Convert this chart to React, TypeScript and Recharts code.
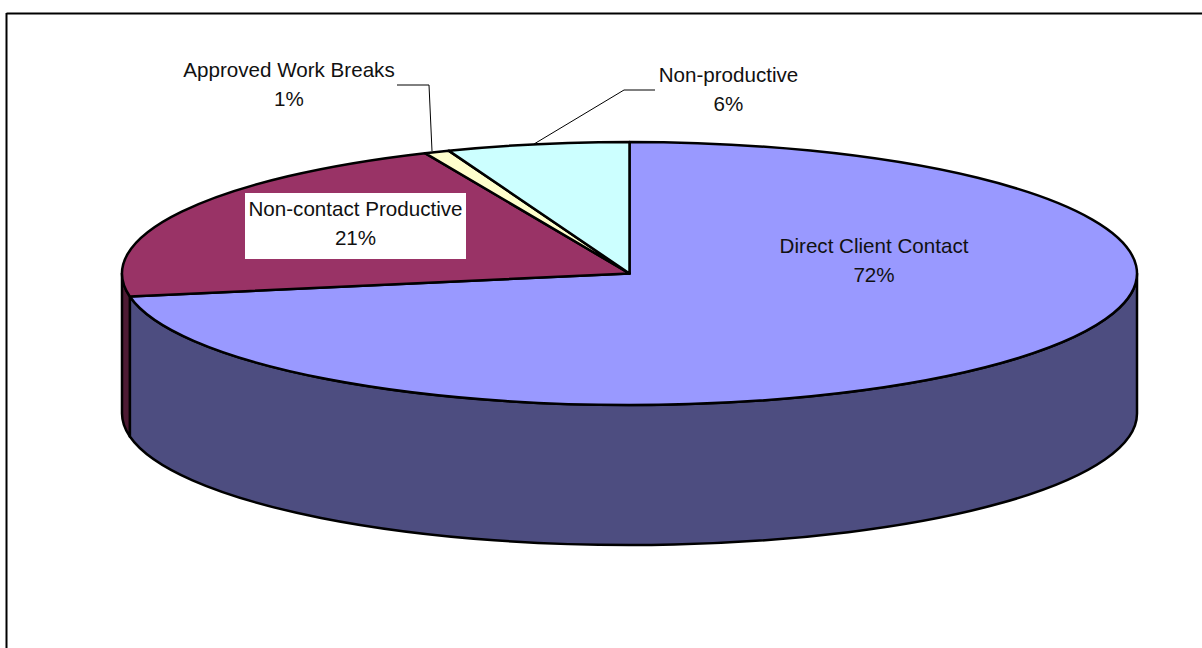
import React from "react";
import { PieChart, Pie } from "recharts";

// Share of working time by activity, clockwise from twelve o'clock.
const categories = ["Direct Client Contact", "Non-contact Productive", "Approved Work Breaks", "Non-productive"];
const shares = [72.2, 21.2, 0.8, 5.8];
const topColors = ["#9999FF", "#993366", "#FFFFCC", "#CCFFFF"];
const wallColors = ["#4D4D80", "#4D1A33", "#80805F", "#668080"];

const rows = categories.map((name, i) => ({
  name,
  value: shares[i],
  fill: topColors[i],
  wall: wallColors[i],
}));

const WIDTH = 1202;
const HEIGHT = 648;
const CX = 629.5;
const CY = 273.5;
const RADIUS = 507.5;
const TILT = 131.5 / 507.5;
const DEPTH = 140;
const FONT = "'Liberation Sans', Arial, sans-serif";

// Point on the tilted rim for a sweep angle measured clockwise from the top.
const rim = (t: number, dy = 0) => {
  const a = (t * Math.PI) / 180;
  return {
    x: CX + RADIUS * Math.sin(a),
    y: CY - RADIUS * TILT * Math.cos(a) + dy,
  };
};

function TiltedSector(props: any) {
  const { startAngle, endAngle, fill, wall, outerRadius } = props;
  const rx = outerRadius;
  const ry = outerRadius * TILT;
  const t0 = 90 - startAngle;
  const t1 = 90 - endAngle;
  const p0 = rim(t0);
  const p1 = rim(t1);
  const large = t1 - t0 > 180 ? 1 : 0;
  const top = `M${CX},${CY} L${p0.x},${p0.y} A${rx},${ry} 0 ${large} 1 ${p1.x},${p1.y} Z`;

  // Only the part of the rim facing the viewer shows a side wall.
  const w0 = Math.max(t0, 90);
  const w1 = Math.min(t1, 270);
  let side: string | null = null;
  if (w1 > w0) {
    const a = rim(w0);
    const b = rim(w1);
    const aLow = rim(w0, DEPTH);
    const bLow = rim(w1, DEPTH);
    const wl = w1 - w0 > 180 ? 1 : 0;
    side = `M${a.x},${a.y} A${rx},${ry} 0 ${wl} 1 ${b.x},${b.y} L${bLow.x},${bLow.y} A${rx},${ry} 0 ${wl} 0 ${aLow.x},${aLow.y} Z`;
  }

  return (
    <g>
      {side && <path d={side} fill={wall} stroke="#000" strokeWidth={2.5} strokeLinejoin="round" />}
      <path d={top} fill={fill} stroke="#000" strokeWidth={2.5} strokeLinejoin="round" />
    </g>
  );
}

// Where each caption sits, and the leader drawn to its slice when it sits outside the pie.
const captionLayout: Record<string, { x: number; y: number; box?: number[]; leader?: string }> = {
  "Direct Client Contact": { x: 874, y: 253 },
  "Non-contact Productive": { x: 355.5, y: 216, box: [245, 193, 221, 66] },
  "Approved Work Breaks": { x: 289, y: 77, leader: "397,85 429,85 432,151" },
  "Non-productive": { x: 728.5, y: 82, leader: "655,90 624,90 534,144" },
};

function Caption(props: any) {
  const { name, percent } = props;
  const spot = captionLayout[name];
  if (!spot) return null;
  return (
    <g>
      {spot.leader && <polyline points={spot.leader} fill="none" stroke="#000" strokeWidth={1} />}
      {spot.box && (
        <rect x={spot.box[0]} y={spot.box[1]} width={spot.box[2]} height={spot.box[3]} fill="#fff" />
      )}
      <text textAnchor="middle" fontFamily={FONT} fontSize={20.6} fill="#111">
        <tspan x={spot.x} y={spot.y}>{name}</tspan>
        <tspan x={spot.x} y={spot.y + 28.5}>{`${Math.round(percent * 100)}%`}</tspan>
      </text>
    </g>
  );
}

export default function App() {
  return (
    <div style={{ position: "fixed", left: 0, top: 0, width: WIDTH, height: HEIGHT, overflow: "hidden", background: "#fff" }}>
      {/* Outer chart-area frame, running off the right and bottom of the page */}
      <svg width={WIDTH} height={HEIGHT} style={{ position: "absolute", left: 0, top: 0 }}>
        <line x1={6.5} y1={13.5} x2={WIDTH} y2={13.5} stroke="#000" strokeWidth={2} />
        <line x1={6.5} y1={13} x2={6.5} y2={HEIGHT} stroke="#000" strokeWidth={2} />
      </svg>
      <div style={{ position: "absolute", left: 0, top: 0 }}>
        <PieChart width={WIDTH} height={HEIGHT} margin={{ top: 0, right: 0, bottom: 0, left: 0 }}>
          <Pie
            data={rows}
            dataKey="value"
            nameKey="name"
            cx={CX}
            cy={CY}
            innerRadius={0}
            outerRadius={RADIUS}
            startAngle={90}
            endAngle={-270}
            paddingAngle={0}
            isAnimationActive={false}
            labelLine={false}
            label={Caption}
            shape={TiltedSector}
          />
        </PieChart>
      </div>
    </div>
  );
}
